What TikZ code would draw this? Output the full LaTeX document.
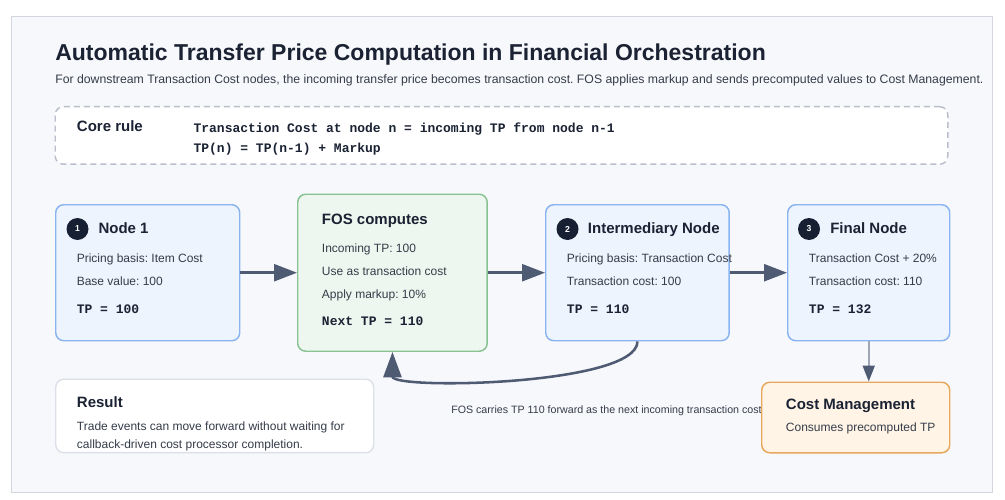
\documentclass[tikz,border=0pt]{standalone}
\usepackage{fontspec}
\setmainfont{Liberation Sans}
\setmonofont{Liberation Mono}
\usetikzlibrary{arrows.meta}
\frenchspacing
\definecolor{panelbg}{HTML}{F7F8FB}
\definecolor{panelbd}{HTML}{D3D6DF}
\definecolor{ink}{HTML}{1A2233}
\definecolor{bodyc}{HTML}{353C49}
\definecolor{arrowc}{HTML}{4F5B73}
\definecolor{bluefill}{HTML}{EEF4FE}
\definecolor{bluebd}{HTML}{8AB4F0}
\definecolor{greenfill}{HTML}{EEF7EF}
\definecolor{greenbd}{HTML}{88C292}
\definecolor{orangefill}{HTML}{FFF4E6}
\definecolor{orangebd}{HTML}{E8A85C}
\definecolor{dashbd}{HTML}{BABFCB}
\definecolor{resultbd}{HTML}{DDE0E8}
\definecolor{thinline}{HTML}{9FA7B6}
\definecolor{badgec}{HTML}{172033}
\tikzset{
  box/.style={rectangle, rounded corners=6pt, line width=1.1pt, anchor=north west, inner sep=0pt},
  txt/.style={anchor=base west, inner sep=0pt, text=bodyc, font=\frenchspacing\fontsize{9}{11}\selectfont},
  ttl/.style={anchor=base west, inner sep=0pt, text=ink, font=\bfseries\fontsize{11.25}{13}\selectfont},
  mono/.style={anchor=base west, inner sep=0pt, text=ink, font=\ttfamily\bfseries\fontsize{9.75}{11}\selectfont},
  badge/.style={circle, fill=badgec, minimum size=16.5pt, inner sep=0pt, text=white, font=\bfseries\fontsize{6.5}{7}\selectfont},
  mainarrow/.style={draw=arrowc, line width=1.9pt, -{Triangle[length=17.25pt, width=12.75pt]}},
  curvearrow/.style={draw=arrowc, line width=1.9pt, -{Triangle[length=19pt, width=13.5pt]}},
  downarrow/.style={draw=thinline, line width=1.5pt, -{Triangle[length=12pt, width=9pt, color=arrowc]}},
}
\begin{document}
\begin{tikzpicture}[x=0.75pt,y=-0.75pt]
\useasboundingbox (0,0) rectangle (1005,499);
\fill[white] (0,0) rectangle (1005,499);
\draw[draw=panelbd, fill=panelbg, line width=0.9pt] (11.5,16.5) rectangle (992.5,492.5);

% title
\node[anchor=base west, inner sep=0pt, text=ink, font=\bfseries\fontsize{17.25}{20}\selectfont] (title) at (55,61) {Automatic Transfer Price Computation in Financial Orchestration};
\node[anchor=base west, inner sep=0pt, text=bodyc, font=\frenchspacing\fontsize{9.2}{11}\selectfont] (subtitle) at (55,83.3) {For downstream Transaction Cost nodes, the incoming transfer price becomes transaction cost. FOS applies markup and sends precomputed values to Cost Management.};

% core rule
\node[box, fill=white, draw=dashbd, dash pattern=on 4.5pt off 3pt, minimum width=669.4pt, minimum height=43.1pt] (core) at (54.5,106) {};
\node[ttl] (coret) at (76.7,131.7) {Core rule};
\node[mono] (corel1) at (193.3,132.3) {Transaction Cost at node n = incoming TP from node n-1};
\node[mono] (corel2) at (193.3,152.3) {TP(n) = TP(n-1) + Markup};

% boxes
\node[box, fill=bluefill, draw=bluebd, minimum width=138pt, minimum height=102pt] (n1) at (55,204) {};
\node[box, fill=greenfill, draw=greenbd, minimum width=142.1pt, minimum height=117.75pt] (fos) at (297,193.5) {};
\node[box, fill=bluefill, draw=bluebd, minimum width=137.6pt, minimum height=102pt] (inter) at (545,204) {};
\node[box, fill=bluefill, draw=bluebd, minimum width=121.5pt, minimum height=102pt] (final) at (787,204) {};

% arrows between boxes
\draw[mainarrow] (n1.east) -- (fos.west);
\draw[mainarrow] (fos.east) -- (inter.west);
\draw[mainarrow] (inter.east) -- (final.west);

% Node 1
\node[badge] (b1) at (77.5,229) {1};
\node[ttl] (n1t) at (98.3,233) {Node 1};
\node[txt] (n1a) at (76.5,262.3) {Pricing basis: Item Cost};
\node[txt] (n1b) at (76.5,285.3) {Base value: 100};
\node[mono] (n1c) at (76.5,313.3) {TP = 100};

% FOS
\node[ttl] (fost) at (321.7,224) {FOS computes};
\node[txt] (fosa) at (321.7,252.3) {Incoming TP: 100};
\node[txt] (fosb) at (321.7,275.3) {Use as transaction cost};
\node[txt] (fosc) at (321.7,298.3) {Apply markup: 10\%};
\node[mono] (fosd) at (321.7,325) {Next TP = 110};

% Intermediary
\node[badge] (b2) at (567.5,229) {2};
\node[ttl] (intt) at (587.7,233) {Intermediary Node};
\node[txt] (inta) at (566.7,262.3) {Pricing basis: Transaction Cost};
\node[txt] (intb) at (566.7,285.3) {Transaction cost: 100};
\node[mono] (intc) at (566.7,313.3) {TP = 110};

% Final
\node[badge] (b3) at (809,229) {3};
\node[ttl] (fint) at (830,233) {Final Node};
\node[txt] (fina) at (808.7,262.3) {Transaction Cost + 20\%};
\node[txt] (finb) at (808.7,285.3) {Transaction cost: 110};
\node[mono] (finc) at (808.7,313.3) {TP = 132};

% loop back
\draw[curvearrow] (inter.south) .. controls +(0,44) and +(0,38) .. (fos.south);

% label
\node[anchor=base west, inner sep=0pt, text=bodyc, font=\fontsize{8}{9}\selectfont] (loopl) at (451,413.3) {FOS carries TP 110 forward as the next incoming transaction cost};

% Result
\node[box, fill=white, draw=resultbd, minimum width=238.5pt, minimum height=55.1pt] (res) at (55,378.5) {};
\node[ttl] (rest) at (76.7,407.7) {Result};
\node[txt] (resa) at (76.7,430.7) {Trade events can move forward without waiting for};
\node[txt] (resb) at (76.7,448.3) {callback-driven cost processor completion.};

% Cost Management
\node[box, fill=orangefill, draw=orangebd, minimum width=141pt, minimum height=52.9pt] (cm) at (761,381.5) {};
\node[ttl] (cmt) at (785.7,409) {Cost Management};
\node[txt] (cma) at (785.7,431.7) {Consumes precomputed TP};
\draw[downarrow] (final.south) -- (final.south |- cm.north);
\end{tikzpicture}
\end{document}
